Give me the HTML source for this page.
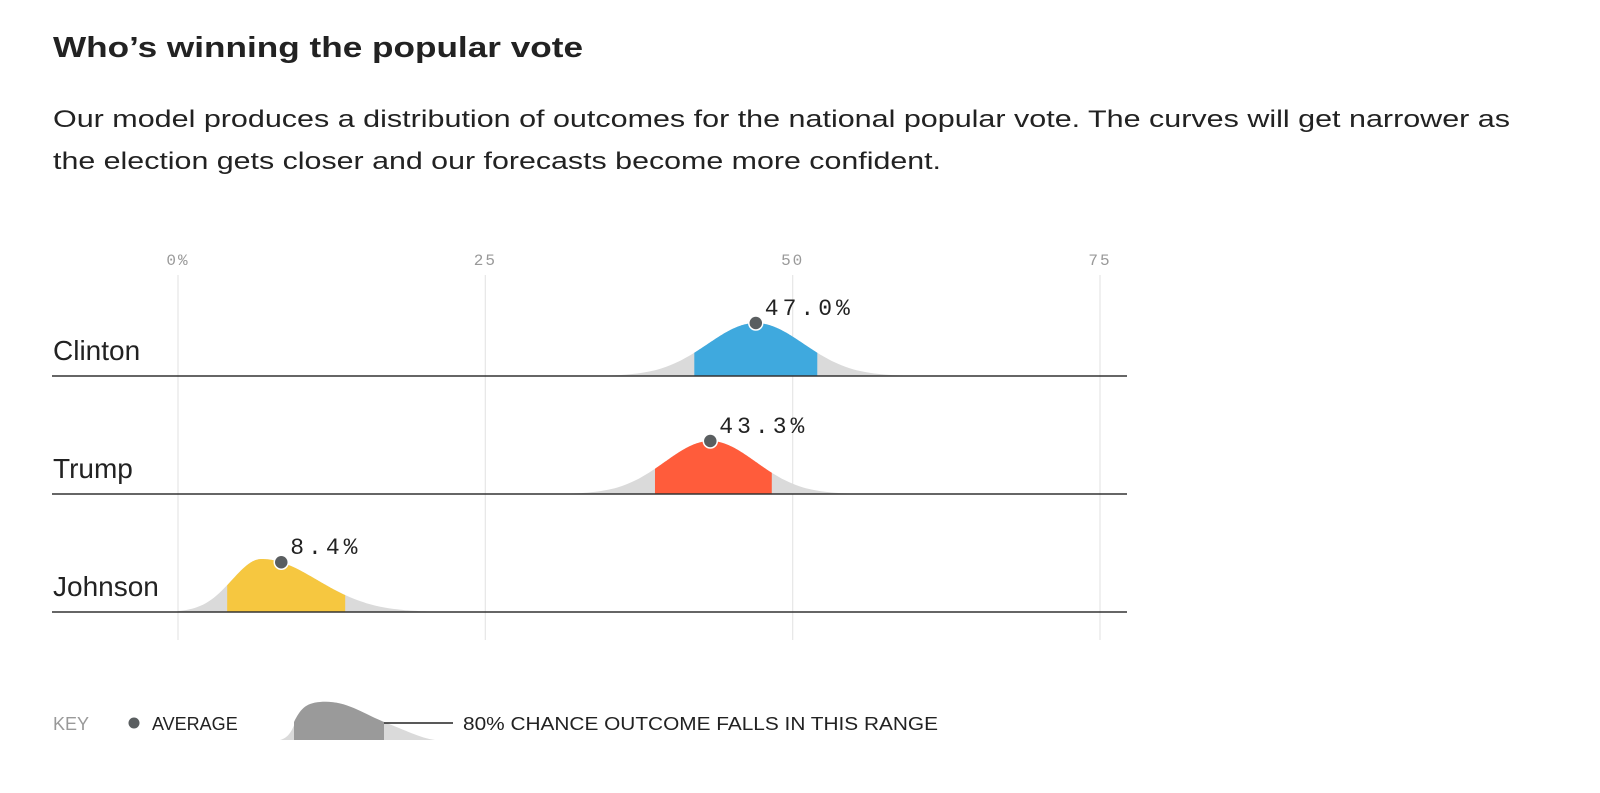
<!DOCTYPE html>
<html><head><meta charset="utf-8"><style>
html,body{margin:0;padding:0;background:#fff;}
svg{display:block;font-family:"Liberation Sans",sans-serif;}
</style></head><body>
<svg id="chart" width="1600" height="793" viewBox="0 0 1600 793">
<text x="53" y="57" font-size="29" font-weight="bold" fill="#222" textLength="530" lengthAdjust="spacingAndGlyphs">Who’s winning the popular vote</text>
<text x="53" y="127" font-size="24" fill="#222" textLength="1457" lengthAdjust="spacingAndGlyphs">Our model produces a distribution of outcomes for the national popular vote. The curves will get narrower as</text>
<text x="53" y="169" font-size="24" fill="#222" textLength="888" lengthAdjust="spacingAndGlyphs">the election gets closer and our forecasts become more confident.</text>
<g id="grid"></g>
<g id="rows"></g>
<g id="legend">
<text x="53" y="730" font-size="18" fill="#999">KEY</text>
<circle cx="134" cy="723" r="5.5" fill="#5a5e60"/>
<text x="152" y="730" font-size="18" fill="#222">AVERAGE</text>
<path d="M280,740 C300,735 290,705 320,702 C345,700 360,712 384,722 C405,730 420,738 435,740 Z" fill="#dadada"/>
<path d="M294,740 L294,722 C300,710 305,703 320,702 C345,700 360,712 384,722 L384,740 Z" fill="#9a9a9a"/>
<line x1="384" y1="723" x2="453" y2="723" stroke="#222" stroke-width="1.5"/>
<text x="463" y="730" font-size="18" fill="#222" textLength="475" lengthAdjust="spacingAndGlyphs">80% CHANCE OUTCOME FALLS IN THIS RANGE</text>
</g>
</svg>
<script>
const candidates = ["Clinton","Trump","Johnson"];
const means = [47.0, 43.3, 8.4];
const modes = [47.0, 43.3, 6.8];
const sdLeft = [3.9, 3.7, 2.4];
const sdRight = [3.9, 3.7, 4.5];
const lo80 = [42.0, 38.8, 4.0];
const hi80 = [52.0, 48.3, 13.6];
const colors = ["#3fa9de","#ff5c3b","#f6c740"];
const tickValues = [0, 25, 50, 75];
const tickLabels = ["0%","25","50","75"];

const NS = "http://www.w3.org/2000/svg";
const x = v => 178 + v * (1100 - 178) / 75;
const baseY = i => 376 + i * 118;
const PEAK = 53;
function mk(tag, attrs, parent){ const e=document.createElementNS(NS,tag); for(const k in attrs) e.setAttribute(k,attrs[k]); parent.appendChild(e); return e; }
function dens(i,v){ const s = v < modes[i] ? sdLeft[i] : sdRight[i]; const z=(v-modes[i])/s; return Math.exp(-z*z/2); }
function areaPath(i,a,b){
  const by=baseY(i); let d="M"+x(a)+","+by;
  for(let k=0;k<=120;k++){ const v=a+(b-a)*k/120; d+=" L"+x(v).toFixed(1)+","+(by-PEAK*dens(i,v)).toFixed(1); }
  return d+" L"+x(b)+","+by+" Z";
}
const grid=document.getElementById("grid");
tickValues.forEach((t,j)=>{
  const l=mk("line",{x1:x(t),x2:x(t),y1:275,y2:640,stroke:"#e6e6e6","stroke-width":1.2},grid);
  
  
  const tx=mk("text",{x:x(t),y:265,"text-anchor":"middle","font-size":16,fill:"#999","font-family":"Liberation Mono, monospace","letter-spacing":"2"},grid);
  tx.textContent=tickLabels[j];
  
  
});
const rows=document.getElementById("rows");
candidates.forEach((c,i)=>{
  const g=mk("g",{},rows);
  
  
  const s1=Math.max(0, modes[i]-4.5*sdLeft[i]);
  const tail=mk("path",{d:areaPath(i,s1,modes[i]+4.5*sdRight[i]),fill:"#dadada"},g);
  
  
  const band=mk("path",{d:areaPath(i,lo80[i],hi80[i]),fill:colors[i]},g);
  
  
  const ln=mk("line",{x1:52,x2:1127,y1:baseY(i),y2:baseY(i),stroke:"#333","stroke-width":1.5},g);
  
  
  const nm=mk("text",{x:53,y:baseY(i)-16,"font-size":28,fill:"#222"},g);
  nm.textContent=c;
  
  
  const dy=baseY(i)-PEAK*dens(i,means[i]);
  const dot=mk("circle",{cx:x(means[i]),cy:dy,r:7,fill:"#5a5e60",stroke:"#fff","stroke-width":1.5},g);
  
  
  const vl=mk("text",{x:x(means[i])+9,y:dy-8,"font-size":23,fill:"#222","font-family":"Liberation Mono, monospace","letter-spacing":"4"},g);
  vl.textContent=means[i].toFixed(1)+"%";
  
  
});
</script>
</body></html>
